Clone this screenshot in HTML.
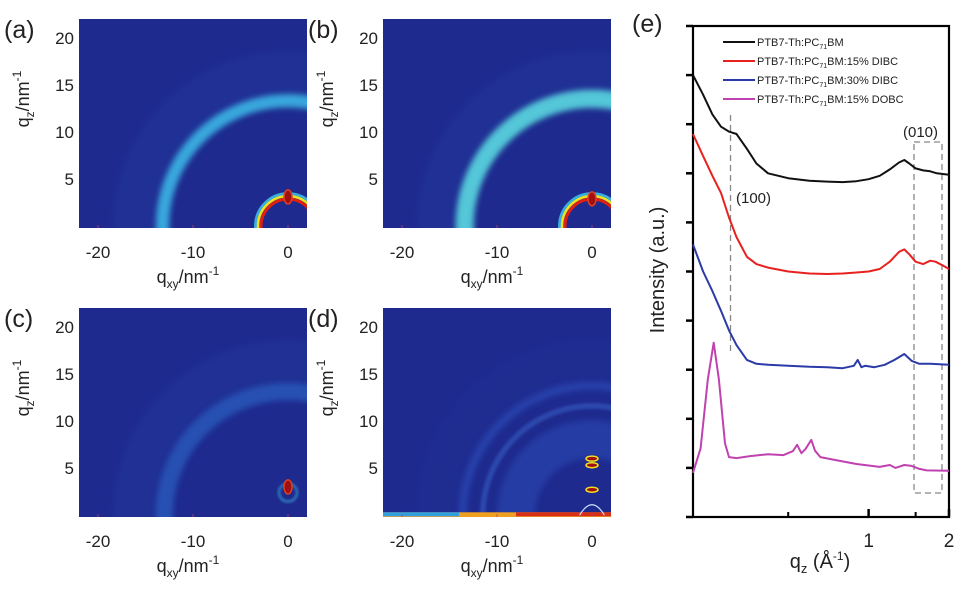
<!DOCTYPE html>
<html><head><meta charset="utf-8"><style>
html,body{margin:0;padding:0;background:#fff;font-family:"Liberation Sans",sans-serif;overflow:hidden;width:977px;height:608px}
svg{display:block;overflow:hidden;position:absolute;left:0;top:0}
text{font-family:"Liberation Sans",sans-serif;fill:#222}
</style></head><body>
<svg id="fig" width="977" height="608" viewBox="0 0 977 608" xmlns="http://www.w3.org/2000/svg">
<defs>
<filter id="blur3" x="-20%" y="-20%" width="140%" height="140%"><feGaussianBlur stdDeviation="3"/></filter>
<filter id="blur1" x="-20%" y="-20%" width="140%" height="140%"><feGaussianBlur stdDeviation="1.2"/></filter>
</defs>
</svg>
<script>
// ---------- GIWAXS panel data ----------
const panelNames = ['a','b','c','d'];
const ringRadius = [13.2, 13.4, 13.0, 13.6];
const ringWidth = [1.4, 1.9, 1.8, 0.8];
const ringColor = ['#3fc6f0', '#5ad8e0', '#2f6fd0', '#3158c8'];
const ringOpacity = [0.8, 0.9, 0.55, 0.5];
const lowRingRadius = [3.0, 3.0, 0, 0];
const spotQz = [[3.1], [2.9], [3.0], [2.7, 5.3, 6.0]];
const xTicks = [-20, -10, 0];
const yTicks = [5, 10, 15, 20];

// ---------- 1D line-cut data (panel e) ----------
const legendLabels = ['PTB7-Th:PC','PTB7-Th:PC','PTB7-Th:PC','PTB7-Th:PC'];
const legendSuffix = ['BM','BM:15% DIBC','BM:30% DIBC','BM:15% DOBC'];
const seriesColors = ['#111111','#e8211e','#2b3aa8','#c042b0'];
const qBlack = [0.22,0.24,0.26,0.28,0.30,0.32,0.35,0.38,0.42,0.5,0.6,0.7,0.8,0.9,1.0,1.1,1.2,1.3,1.36,1.42,1.5,1.6,1.7,1.8,2.0];
const iBlack = [9.0,8.6,8.2,7.95,7.85,7.8,7.5,7.2,7.0,6.9,6.85,6.83,6.82,6.84,6.88,6.95,7.08,7.22,7.27,7.2,7.1,7.06,7.04,7.0,6.97];
const qRed = [0.22,0.24,0.26,0.28,0.30,0.32,0.35,0.38,0.42,0.5,0.6,0.7,0.8,0.9,1.0,1.1,1.2,1.3,1.36,1.42,1.5,1.6,1.7,1.78,1.9,2.0];
const iRed = [7.8,7.35,6.95,6.6,6.1,5.7,5.3,5.15,5.08,5.0,4.96,4.95,4.96,4.98,5.0,5.05,5.2,5.4,5.45,5.35,5.2,5.15,5.22,5.2,5.12,5.05];
const qBlue = [0.22,0.24,0.26,0.28,0.30,0.32,0.35,0.38,0.42,0.5,0.6,0.7,0.8,0.88,0.91,0.94,0.97,1.05,1.15,1.25,1.36,1.45,1.55,1.7,2.0];
const iBlue = [5.55,5.0,4.6,4.2,3.8,3.5,3.2,3.12,3.1,3.08,3.06,3.05,3.03,3.08,3.2,3.05,3.08,3.05,3.1,3.2,3.32,3.18,3.12,3.12,3.1];
const qMag = [0.22,0.235,0.25,0.263,0.275,0.29,0.30,0.32,0.36,0.42,0.48,0.52,0.54,0.56,0.58,0.61,0.63,0.66,0.75,0.9,1.1,1.2,1.26,1.36,1.45,1.55,1.65,2.0];
const iMag = [0.9,1.4,2.8,3.55,2.8,1.5,1.22,1.2,1.24,1.28,1.26,1.34,1.47,1.3,1.38,1.57,1.35,1.22,1.16,1.08,1.02,1.06,1.0,1.06,1.04,0.98,0.95,0.94];
const eYTicks = [0,1,2,3,4,5,6,7,8,9,10];
const eXMajor = [1,2];
const eXMinor = [0.5,1.5];

const NS='http://www.w3.org/2000/svg';
const svg=document.getElementById('fig');
function mk(tag,attrs,parent){const e=document.createElementNS(NS,tag);for(const k in attrs)e.setAttribute(k,attrs[k]);(parent||svg).appendChild(e);return e;}

const origins=[[79,19],[383,19],[79,308],[383,308]];
const PW=228, PH=209;
const X0=-22, X1=2.0, Y0=-0.2, Y1=22;
panelNames.forEach((nm,i)=>{
  const [ox,oy]=origins[i];
  const sx=v=>ox+(v-X0)/(X1-X0)*PW;
  const sy=v=>oy+PH-(v-Y0)/(Y1-Y0)*PH;
  const g=mk('g',{});
  
  
  const clip=mk('clipPath',{id:'clip'+nm},svg.querySelector('defs'));
  mk('rect',{x:ox,y:oy,width:PW,height:PH},clip);
  const img=mk('g',{'clip-path':'url(#clip'+nm+')'},g);
  const bg=mk('rect',{x:ox,y:oy,width:PW,height:PH,fill:'#1e2a8e'},img);
  
  
  const cx=sx(0), cy=sy(0), pxs=PW/(X1-X0);
  mk('circle',{cx:cx,cy:cy,r:16*pxs,fill:'none',stroke:'#2a48b0','stroke-width':5*pxs,opacity:i===3?0.1:0.2,filter:'url(#blur3)'},img);
  const ring=mk('circle',{cx:cx,cy:cy,r:ringRadius[i]*pxs,fill:'none',stroke:ringColor[i],'stroke-width':ringWidth[i]*pxs,opacity:ringOpacity[i],filter:'url(#blur3)'},img);
  
  
  if(i===3){
    mk('circle',{cx:cx,cy:cy,r:11.5*pxs,fill:'none',stroke:'#3a66cc','stroke-width':0.6*pxs,opacity:0.5,filter:'url(#blur1)'},img);
    mk('circle',{cx:cx,cy:cy,r:8*pxs,fill:'none',stroke:'#2d52c0','stroke-width':4*pxs,opacity:0.45,filter:'url(#blur3)'},img);
    const band=mk('rect',{x:ox,y:sy(0.3),width:PW,height:sy(-0.2)-sy(0.3)+1,fill:'#f0a020'},img);
    
    
    mk('rect',{x:ox,y:sy(0.3),width:sx(-14)-ox,height:4,fill:'#30a0e0'},img);
    mk('rect',{x:sx(-8),y:sy(0.3),width:sx(2)-sx(-8),height:4,fill:'#d83018'},img);
    mk('path',{d:`M${sx(-1.3)},${sy(0)} Q${sx(0)},${sy(2.2)} ${sx(1.3)},${sy(0)}`,fill:'none',stroke:'#d0e0ff','stroke-width':1.2},img);
  }
  if(lowRingRadius[i]>0){
    const r=lowRingRadius[i]*pxs;
    mk('circle',{cx:cx,cy:cy,r:r+4,fill:'none',stroke:'#40d0f0','stroke-width':3,opacity:0.8},img);
    mk('circle',{cx:cx,cy:cy,r:r+1.5,fill:'none',stroke:'#f0e020','stroke-width':2.5},img);
    mk('circle',{cx:cx,cy:cy,r:r-1.5,fill:'none',stroke:'#e02010','stroke-width':3},img);
    mk('circle',{cx:cx,cy:cy,r:r-3.5,fill:'#1e2a8e'},img);
  }
  if(i===2){
    mk('circle',{cx:cx,cy:sy(2.4),r:9,fill:'none',stroke:'#40d0f0','stroke-width':2,opacity:0.6,filter:'url(#blur1)'},img);
  }
  spotQz[i].forEach((q,j)=>{
    const s=mk('ellipse',{cx:cx,cy:sy(q),rx:(i===3?6:4),ry:(i===3?2.5:7),fill:'#a01010',stroke:(i===3?'#f0e020':'#e04020'),'stroke-width':1.5},img);
    
    
  });
  xTicks.forEach(v=>{
    mk('line',{x1:sx(v),x2:sx(v),y1:oy+PH,y2:oy+PH-3,stroke:'#c04060','stroke-width':0.8},g);
    const t=mk('text',{x:sx(v),y:oy+PH+30,'font-size':17,'text-anchor':'middle'},g);t.textContent=v;
    
    
  });
  yTicks.forEach(v=>{
    const t=mk('text',{x:ox-5,y:sy(v)+6,'font-size':17,'text-anchor':'end'},g);t.textContent=v;
    
    
  });
  const pl=mk('text',{x:ox-75,y:oy+19,'font-size':25},g);pl.textContent='('+nm+')';
  
  
  const xl=mk('text',{x:ox+PW/2-5,y:oy+PH+55,'font-size':18,'text-anchor':'middle'},g);
  xl.innerHTML='q<tspan font-size="12" dy="5">xy</tspan><tspan dy="-5">/nm</tspan><tspan font-size="12" dy="-8">-1</tspan>';
  
  
  const yl=mk('text',{x:0,y:0,'font-size':18,'text-anchor':'middle',transform:`translate(${ox-50},${oy+80}) rotate(-90)`},g);
  yl.innerHTML='q<tspan font-size="12" dy="5">z</tspan><tspan dy="-5">/nm</tspan><tspan font-size="12" dy="-8">-1</tspan>';
  
  
});

// ---------- panel e ----------
const EL=693, ER=949, ET=26, EB=517;
const QMIN=0.22, QMAX=2.0;
const ex=q=>EL+(Math.log10(q)-Math.log10(QMIN))/(Math.log10(QMAX)-Math.log10(QMIN))*(ER-EL);
const ey=v=>EB-v*49.1;
const ge=mk('g',{});


const fr=mk('rect',{x:EL,y:ET,width:ER-EL,height:EB-ET,fill:'none',stroke:'#000','stroke-width':2.2},ge);


eYTicks.forEach(v=>{ if(ey(v)>=ET-1) mk('line',{x1:EL-7,x2:EL,y1:ey(v),y2:ey(v),stroke:'#000','stroke-width':2.5},ge);});
eXMajor.forEach(q=>{
  mk('line',{x1:ex(q),x2:ex(q),y1:EB,y2:EB-8,stroke:'#000','stroke-width':2.5},ge);
  const t=mk('text',{x:ex(q),y:EB+30,'font-size':19,'text-anchor':'middle'},ge);t.textContent=q;
  
  
});
eXMinor.forEach(q=>mk('line',{x1:ex(q),x2:ex(q),y1:EB,y2:EB-5,stroke:'#000','stroke-width':2},ge));
const dl=mk('line',{x1:ex(0.304),x2:ex(0.304),y1:115,y2:352,stroke:'#888','stroke-width':1.3,'stroke-dasharray':'6,4'},ge);


const db=mk('rect',{x:914,y:142,width:28,height:351,fill:'none',stroke:'#888','stroke-width':1.3,'stroke-dasharray':'6,4'},ge);


const qs=[qBlack,qRed,qBlue,qMag], is=[iBlack,iRed,iBlue,iMag];
const sn=['series-pristine','series-15-dibc','series-30-dibc','series-15-dobc'];
qs.forEach((q,k)=>{
  const d=q.map((v,j)=>(j?'L':'M')+ex(v).toFixed(1)+','+ey(is[k][j]).toFixed(1)).join(' ');
  const p=mk('path',{d:d,fill:'none',stroke:seriesColors[k],'stroke-width':2,'stroke-linejoin':'round'},ge);
  
  
});
legendLabels.forEach((l,k)=>{
  const y=42+k*19;
  mk('line',{x1:723,x2:755,y1:y,y2:y,stroke:seriesColors[k],'stroke-width':2},ge);
  const t=mk('text',{x:757,y:y+4,'font-size':11},ge);
  t.innerHTML=l+'<tspan font-size="7" dy="3">71</tspan><tspan dy="-3">'+legendSuffix[k]+'</tspan>';
  
  
});
const a1=mk('text',{x:736,y:203,'font-size':15},ge);a1.textContent='(100)';


const a2=mk('text',{x:903,y:137,'font-size':15},ge);a2.textContent='(010)';


const el=mk('text',{x:632,y:32,'font-size':25},ge);el.textContent='(e)';


const yt=mk('text',{x:0,y:0,'font-size':20,'text-anchor':'middle',transform:'translate(664,270) rotate(-90)'},ge);yt.textContent='Intensity (a.u.)';


const xt=mk('text',{x:820,y:568,'font-size':20,'text-anchor':'middle'},ge);
xt.innerHTML='q<tspan font-size="13" dy="5">z</tspan><tspan dy="-5"> (Å</tspan><tspan font-size="12" dy="-8">-1</tspan><tspan dy="8">)</tspan>';


</script>
</body></html>
